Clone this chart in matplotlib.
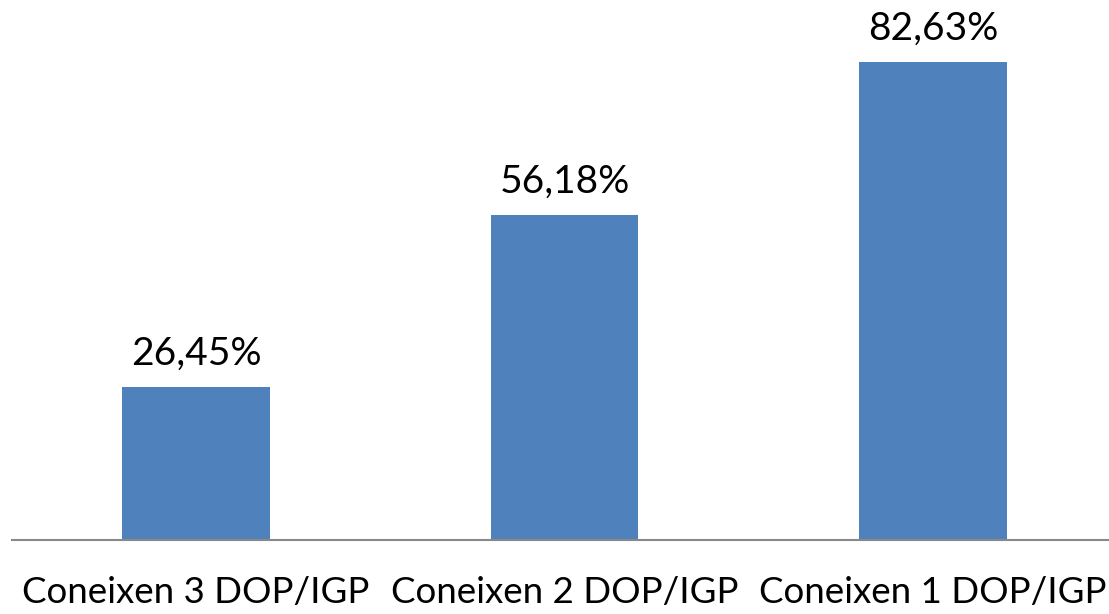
import numpy as np
import matplotlib.pyplot as plt

# Data
categories = ['Coneixen 3 DOP/IGP', 'Coneixen 2 DOP/IGP', 'Coneixen 1 DOP/IGP']
values = [26.45, 56.18, 82.63]
labels = ['26,45%', '56,18%', '82,63%']

plt.rcParams['font.family'] = ['Lato', 'DejaVu Sans']

fig = plt.figure(figsize=(11.09, 6.14), dpi=100)
ax = fig.add_axes([12 / 1109, 74 / 614, 1105 / 1109, 540 / 614])

x = np.arange(len(categories))
bars = ax.bar(x, values, width=0.4, color='#4F81BD')

for b, lab in zip(bars, labels):
    ax.annotate(lab, (b.get_x() + b.get_width() / 2, b.get_height()),
                xytext=(0, 16), textcoords='offset points',
                ha='center', va='baseline', fontsize=28, color='black')

ax.set_xlim(-0.5, 2.5)
ax.set_ylim(0, 93.3)
ax.set_xticks(x)
ax.set_xticklabels(categories, fontsize=26.5)
ax.tick_params(axis='x', length=0, pad=26)
ax.set_yticks([])

for s in ['top', 'right', 'left']:
    ax.spines[s].set_visible(False)
ax.spines['bottom'].set_color('#898989')
ax.spines['bottom'].set_linewidth(1.5)

fig.savefig('out.png', dpi=100)
